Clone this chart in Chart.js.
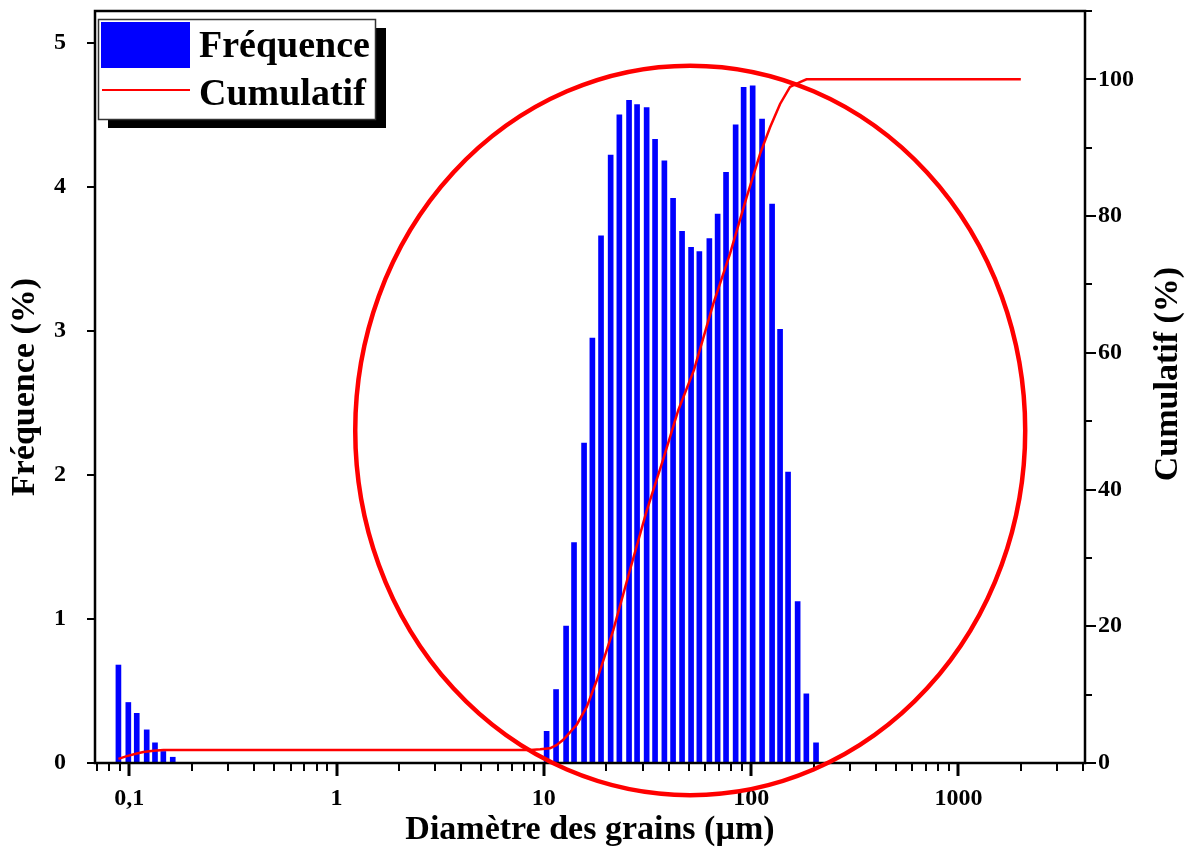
<!DOCTYPE html>
<html lang="fr">
<head>
<meta charset="utf-8">
<title>Granulométrie</title>
<script src="https://cdn.jsdelivr.net/npm/chart.js@4.4.1/dist/chart.umd.min.js"></script>
<style>
  html, body { margin: 0; padding: 0; background: #fff; }
  canvas { display: block; }
</style>
</head>
<body>
<canvas id="granuloChart" width="1187" height="847"></canvas>
<script>
// classes granulométriques (µm) et fréquence (%)
const diametres = [0.0886, 0.0989, 0.1086, 0.1213, 0.133, 0.1459, 0.162,
  10.31, 11.45, 12.8, 13.98, 15.63, 17.14, 18.87, 21.0, 23.13, 25.76, 28.16, 31.32,
  34.39, 38.14, 42.01, 46.42, 51.31, 56.25, 62.86, 68.91, 75.66, 84.18, 91.99,
  101.7, 112.9, 126.2, 137.9, 150.7, 167.6, 184.6, 205.6];
const frequences = [0.68, 0.42, 0.345, 0.23, 0.14, 0.08, 0.04,
  0.22, 0.51, 0.95, 1.53, 2.22, 2.95, 3.66, 4.22, 4.50, 4.60, 4.57, 4.55,
  4.33, 4.18, 3.92, 3.69, 3.58, 3.55, 3.64, 3.81, 4.10, 4.43, 4.69,
  4.70, 4.47, 3.88, 3.01, 2.02, 1.12, 0.48, 0.14];

// courbe cumulée (%)
const diamCumul = [0.0886, 0.0972, 0.1087, 0.1169, 0.1307, 0.1461, 0.162, 8.6, 9.6, 10.7,
  11.5, 12.4, 14.4, 16.1, 18.0, 21.6, 26.0, 31.4, 37.7, 44.5, 53.0, 65.7, 79.1,
  95.2, 110.4, 123.4, 137.9, 154, 172, 185, 2000];
const cumulatif = [0.6, 1.0, 1.4, 1.6, 1.8, 1.9, 1.9, 1.9, 2.0, 2.15,
  2.6, 3.4, 5.6, 8.2, 12.1, 19.4, 28.2, 37.0, 44.5, 51.6, 57.5, 67.2, 74.5,
  82.8, 89.1, 93.0, 96.4, 98.9, 99.6, 100, 100];

// graduations
const decades = [0.1, 1, 10, 100, 1000];
const decadeLabels = ['0,1', '1', '10', '100', '1000'];
const freqTicks = [0, 1, 2, 3, 4, 5];
const cumulTicks = [0, 20, 40, 60, 80, 100];
const cumulMinorTicks = [10, 30, 50, 70, 90, 110];
const xMin = 0.0683, xMax = 4080;

// zone entourée en rouge (µm et % cumulé)
const zone = { dMin: 1.23, dMax: 2100, cMin: -4.7, cMax: 102 };

const graduationsX = [];
[0.01, 0.1, 1, 10, 100, 1000].forEach(d => {
  for (let k = 1; k <= 9; k++) {
    const v = +(d * k).toPrecision(3);
    if (v >= xMin && v <= xMax) graduationsX.push(v);
  }
});

const serif = 'Liberation Serif, Times New Roman, serif';

const habillage = {
  id: 'habillage',
  afterDraw(chart) {
    const ctx = chart.ctx;
    const { left, right, top, bottom } = chart.chartArea;
    const x = chart.scales.x, y = chart.scales.y, y2 = chart.scales.y2;
    ctx.save();
    ctx.strokeStyle = '#000';

    // graduations
    x.ticks.forEach(t => {
      const px = Math.round(x.getPixelForValue(t.value));
      const major = decades.includes(t.value);
      ctx.lineWidth = major ? 3 : 2;
      ctx.beginPath();
      ctx.moveTo(px, bottom);
      ctx.lineTo(px, bottom + (major ? 13 : 8));
      ctx.stroke();
    });
    ctx.lineWidth = 2;
    y.ticks.forEach(t => {
      const py = Math.round(y.getPixelForValue(t.value));
      ctx.beginPath();
      ctx.moveTo(left - 8, py);
      ctx.lineTo(left, py);
      ctx.stroke();
    });
    cumulTicks.concat(cumulMinorTicks).forEach(v => {
      const py = Math.round(y2.getPixelForValue(v));
      ctx.beginPath();
      ctx.moveTo(right, py);
      ctx.lineTo(right + (cumulTicks.includes(v) ? 11 : 7), py);
      ctx.stroke();
    });

    // cadre
    ctx.lineWidth = 2.5;
    ctx.strokeRect(left, top, right - left, bottom - top);

    // titre de l'axe droit
    ctx.save();
    ctx.translate(1168, 374);
    ctx.rotate(-Math.PI / 2);
    ctx.fillStyle = '#000';
    ctx.font = 'bold 34px ' + serif;
    ctx.textAlign = 'center';
    ctx.textBaseline = 'middle';
    ctx.fillText('Cumulatif (%)', 0, 0);
    ctx.restore();

    // légende
    const lx = left + 3, ly = top + 8;
    ctx.fillStyle = '#000';
    ctx.fillRect(lx + 10, ly + 9, 278, 100);
    ctx.fillStyle = '#fff';
    ctx.fillRect(lx, ly, 278, 101);
    ctx.strokeStyle = '#333';
    ctx.lineWidth = 1.5;
    ctx.strokeRect(lx + 0.5, ly + 0.5, 277, 100);
    ctx.fillStyle = '#0000ff';
    ctx.fillRect(lx + 3, ly + 3, 89, 46);
    ctx.strokeStyle = '#ff0000';
    ctx.lineWidth = 2;
    ctx.beginPath();
    ctx.moveTo(lx + 4, ly + 71);
    ctx.lineTo(lx + 92, ly + 71);
    ctx.stroke();
    ctx.fillStyle = '#000';
    ctx.font = 'bold 38px ' + serif;
    ctx.textAlign = 'left';
    ctx.textBaseline = 'middle';
    ctx.fillText('Fréquence', lx + 101, ly + 28);
    ctx.fillText('Cumulatif', lx + 101, ly + 76);

    // ellipse
    const ex1 = x.getPixelForValue(zone.dMin), ex2 = x.getPixelForValue(zone.dMax);
    const ey1 = y2.getPixelForValue(zone.cMax), ey2 = y2.getPixelForValue(zone.cMin);
    ctx.strokeStyle = '#ff0000';
    ctx.lineWidth = 4.5;
    ctx.beginPath();
    ctx.ellipse((ex1 + ex2) / 2, (ey1 + ey2) / 2, (ex2 - ex1) / 2, (ey2 - ey1) / 2, 0, 0, Math.PI * 2);
    ctx.stroke();
    ctx.restore();
  }
};

const tickFont = { family: serif, size: 24, weight: 'bold' };

new Chart(document.getElementById('granuloChart'), {
  type: 'bar',
  data: {
    datasets: [
      {
        type: 'line',
        label: 'Cumulatif',
        data: diamCumul.map((d, i) => ({ x: d, y: cumulatif[i] })),
        yAxisID: 'y2',
        borderColor: '#ff0000',
        borderWidth: 2.5,
        pointRadius: 0,
        tension: 0,
        order: 0
      },
      {
        type: 'bar',
        label: 'Fréquence',
        data: diametres.map((d, i) => ({ x: d, y: frequences[i] })),
        yAxisID: 'y',
        backgroundColor: '#0000ff',
        borderWidth: 0,
        barThickness: 5,
        order: 1
      }
    ]
  },
  options: {
    responsive: false,
    devicePixelRatio: 1,
    animation: false,
    layout: { padding: { top: 11, left: 0, right: 0, bottom: 0 } },
    plugins: { legend: { display: false }, tooltip: { enabled: false } },
    scales: {
      x: {
        type: 'logarithmic',
        position: 'bottom',
        min: xMin,
        max: xMax,
        offset: false,
        afterBuildTicks: s => { s.ticks = graduationsX.map(v => ({ value: v })); },
        afterFit: s => { s.height = 84; s.paddingLeft = 0; s.paddingRight = 0; },
        grid: { display: false, drawTicks: false },
        border: { display: false },
        ticks: {
          autoSkip: false,
          maxRotation: 0,
          padding: 21,
          color: '#000',
          font: tickFont,
          callback: v => {
            const i = decades.indexOf(v);
            return i >= 0 ? decadeLabels[i] : '';
          }
        },
        title: {
          display: true,
          text: 'Diamètre des grains (µm)',
          color: '#000',
          font: { family: serif, size: 34, weight: 'bold', lineHeight: 1 },
          padding: { top: 0, bottom: 0 }
        }
      },
      y: {
        type: 'linear',
        position: 'left',
        min: 0,
        max: 5.22,
        afterBuildTicks: s => { s.ticks = freqTicks.map(v => ({ value: v })); },
        afterFit: s => { s.width = 95; s.paddingTop = 0; s.paddingBottom = 0; },
        grid: { display: false, drawTicks: false },
        border: { display: false },
        ticks: { padding: 29, color: '#000', font: tickFont },
        title: {
          display: true,
          text: 'Fréquence (%)',
          color: '#000',
          font: { family: serif, size: 34, weight: 'bold', lineHeight: 1 },
          padding: { top: 8, bottom: 0 }
        }
      },
      y2: {
        type: 'linear',
        position: 'right',
        min: 0,
        max: 110,
        afterBuildTicks: s => { s.ticks = cumulTicks.map(v => ({ value: v })); },
        afterFit: s => { s.width = 102; s.paddingTop = 0; s.paddingBottom = 0; },
        grid: { display: false, drawTicks: false },
        border: { display: false },
        ticks: { padding: 13, color: '#000', font: tickFont }
      }
    }
  },
  plugins: [habillage]
});
</script>
</body>
</html>
